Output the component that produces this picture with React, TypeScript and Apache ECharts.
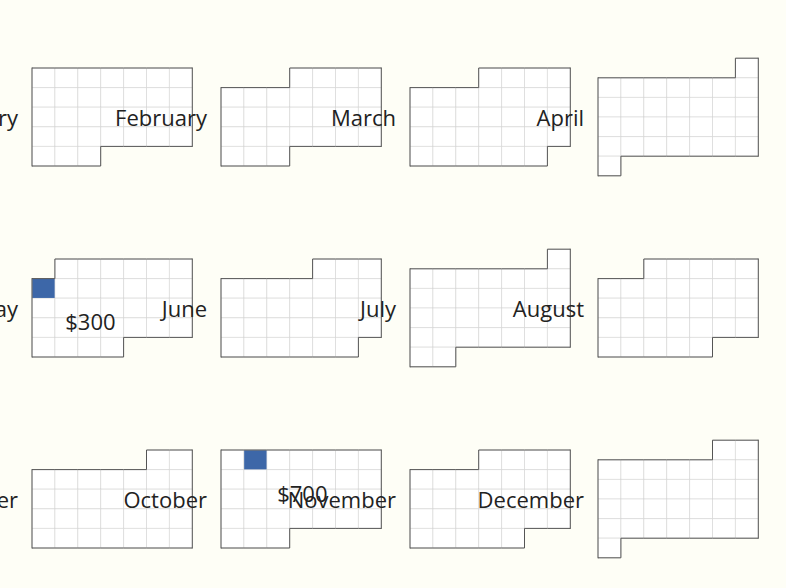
import { useEffect, useRef } from "react";
import * as echarts from "echarts";

const year = 2017;
const monthNames = ["January", "February", "March", "April", "May", "June", "July", "August", "September", "October", "November", "December"];
const spendDates = ["2017-05-07", "2017-10-02"];
const spendValues = [300, 700];

const colLeft = [32, 221, 410, 598];
const rowCenter = [117, 308, 499];
const cellW = 22.9;
const cellH = 19.6;

// number of Sunday-started weeks a month spans
function weeksIn(m: number) {
  const first = new Date(year, m, 1).getDay();
  const days = new Date(year, m + 1, 0).getDate();
  return Math.ceil((first + days) / 7);
}

function pad(n: number) {
  return n < 10 ? "0" + n : "" + n;
}

const App = () => {
  const chartRef: any = useRef(null);

  useEffect(() => {
    const chart = echarts.init(chartRef.current, null, { renderer: "svg" });
    const calendars = monthNames.map((_, m) => {
      const w = weeksIn(m);
      const last = new Date(year, m + 1, 0).getDate();
      return {
        orient: "vertical",
        range: [`${year}-${pad(m + 1)}-01`, `${year}-${pad(m + 1)}-${pad(last)}`],
        left: colLeft[m % 4],
        top: rowCenter[Math.floor(m / 4)] - (w * cellH) / 2,
        cellSize: [cellW, cellH],
        splitLine: { show: true, lineStyle: { color: "#555", width: 1 } },
        itemStyle: { color: "#fff", borderColor: "#ccc", borderWidth: 0.5 },
        dayLabel: { show: false, firstDay: 0 },
        yearLabel: { show: false },
        monthLabel: {
          show: true,
          position: "start",
          nameMap: monthNames,
          margin: 14,
          fontSize: 22,
          fontWeight: 500,
          color: "#222",
          fontFamily: "Open Sans",
        },
      };
    });
    const series = monthNames.map((_, m) => ({
      type: "heatmap",
      coordinateSystem: "calendar",
      calendarIndex: m,
      data: spendDates
        .map((d, i) => [d, spendValues[i]])
        .filter((d) => Number((d[0] as string).slice(5, 7)) === m + 1),
      label: {
        show: true,
        offset: [47, 33],
        fontSize: 22,
        color: "#222",
        fontFamily: "Open Sans",
        formatter: (p: any) => "$" + p.value[1],
      },
    }));
    chart.setOption({
      animation: false,
      backgroundColor: "#fefef6",
      visualMap: {
        show: false,
        min: 0,
        max: 1000,
        inRange: { color: ["#3d67a8", "#3d67a8"] },
      },
      calendar: calendars,
      series,
    } as any);
    return () => chart.dispose();
  }, []);

  return <div ref={chartRef} style={{ width: 786, height: 588, position: "absolute", left: 0, top: 0 }}></div>;
};

export default App;
